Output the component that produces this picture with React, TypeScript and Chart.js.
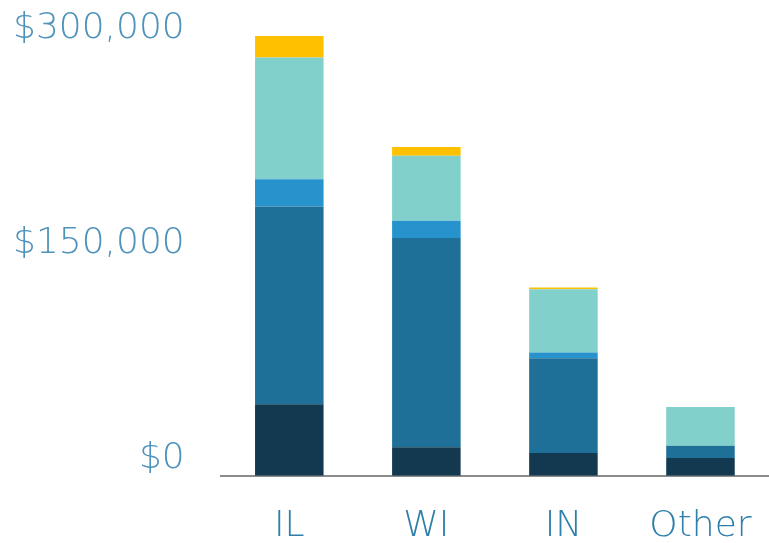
import React, { useEffect, useRef } from "react";
import { Chart, registerables } from "chart.js";

Chart.register(...registerables);

const categories = ["IL", "WI", "IN", "Other"];
const seriesNames = ["Segment 1", "Segment 2", "Segment 3", "Segment 4", "Segment 5"];
const segment1 = [50000, 20000, 16000, 12500];
const segment2 = [138000, 146000, 66000, 8500];
const segment3 = [19000, 12000, 4000, 0];
const segment4 = [85000, 45500, 44300, 27000];
const segment5 = [15000, 6000, 1200, 0];
const seriesColors = ["#12394f", "#1f7099", "#2793cc", "#82d0cc", "#ffc000"];
const yTicks = [0, 150000, 300000];
const yMax = 317500;

export default function App() {
  const ref = useRef<HTMLCanvasElement | null>(null);
  useEffect(() => {
    if (!ref.current) return;
    const values = [segment1, segment2, segment3, segment4, segment5];
    const zeroPad = (scale: any) => {
      scale.paddingTop = 0;
      scale.paddingBottom = 0;
      scale.paddingLeft = 0;
      scale.paddingRight = 0;
    };
    const chart = new Chart(ref.current, {
      type: "bar",
      data: {
        labels: categories,
        datasets: values.map((v, i) => ({
          label: seriesNames[i],
          data: v,
          backgroundColor: seriesColors[i],
          borderWidth: 0,
          barPercentage: 0.5,
          categoryPercentage: 1,
        })),
      },
      options: {
        animation: false,
        responsive: true,
        maintainAspectRatio: false,
        layout: { padding: { top: 21, right: 0, left: -23, bottom: -34 } },
        plugins: { legend: { display: false }, tooltip: { enabled: false } },
        scales: {
          x: {
            stacked: true,
            afterFit: zeroPad,
            grid: { display: false, drawTicks: false },
            border: { display: true, color: "#8c8c8c", width: 2 },
            ticks: {
              color: "#2f7fab",
              padding: 29,
              font: { family: "DejaVu Sans", size: 36, weight: 200 },
            },
          },
          y: {
            stacked: true,
            min: 0,
            max: yMax,
            afterFit: zeroPad,
            grid: { display: false, drawTicks: false },
            border: { display: false },
            afterBuildTicks: (scale: any) => {
              scale.ticks = yTicks.map((v) => ({ value: v }));
            },
            ticks: {
              color: "#4f93ba",
              padding: 36,
              labelOffset: -17,
              font: { family: "DejaVu Sans", size: 36, weight: 200 },
              callback: (v: any) => "$" + Number(v).toLocaleString("en-US"),
            },
          },
        },
      },
    });
    return () => chart.destroy();
  }, []);
  return (
    <div style={{ position: "fixed", left: 0, top: 0, width: 769, height: 543, background: "#fff" }}>
      <canvas ref={ref} />
    </div>
  );
}
